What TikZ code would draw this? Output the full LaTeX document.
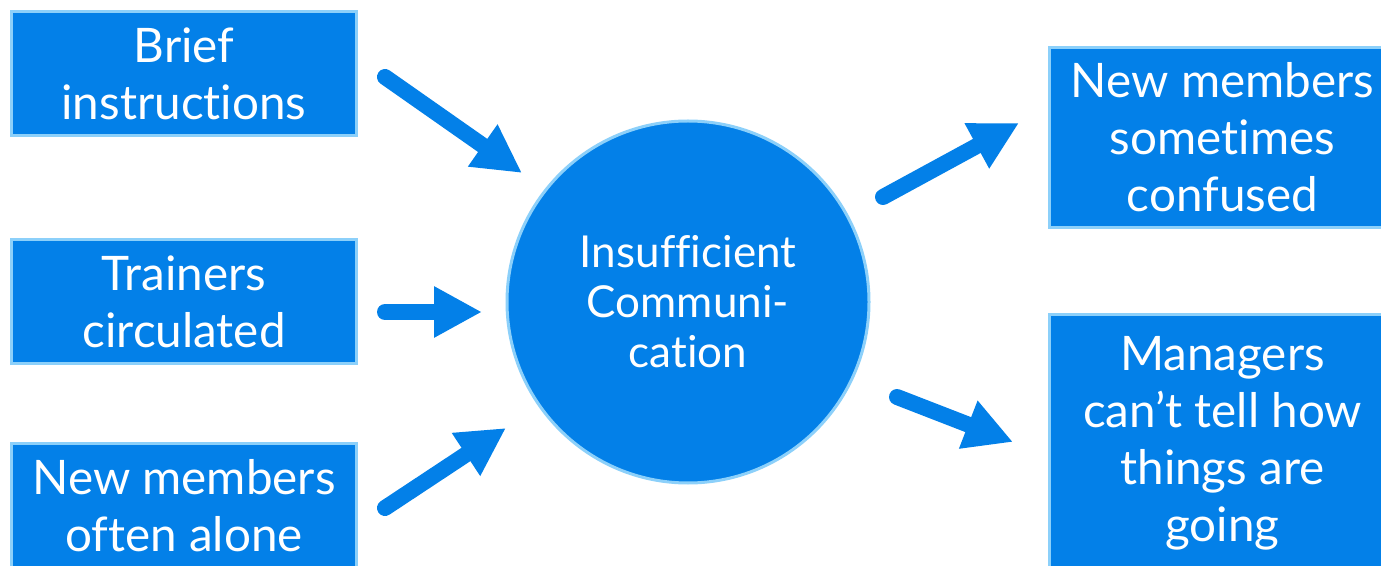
\documentclass[tikz,border=0pt]{standalone}
\usepackage{fontspec}
\setmainfont{Lato}[Ligatures=NoCommon]
\usetikzlibrary{arrows.meta}
\definecolor{boxfill}{RGB}{3,128,232}
\definecolor{boxedge}{RGB}{140,208,250}
\tikzset{
  box/.style={draw=boxedge, line width=1.5pt, fill=boxfill, text=white,
    anchor=north west, inner sep=0pt, align=center,
    font=\fontsize{23.8}{28.5}\selectfont},
  hub/.style={circle, draw=boxedge, line width=1.5pt, fill=boxfill, text=white,
    inner sep=0pt, minimum size=181pt, align=center,
    font=\fontsize{22}{25}\selectfont},
  bigarrow/.style={draw=boxfill, line width=8pt, line cap=round,
    -{Triangle[width=24pt,length=24pt]}}
}
\begin{document}
\begin{tikzpicture}[x=0.5pt,y=-0.5pt]
\useasboundingbox (0,0) rectangle (1381,566);
\clip (0,0) rectangle (1381,566);
\fill[white] (0,0) rectangle (1381,566);
\node[box, minimum width=172.5pt, minimum height=62pt] (b1) at (10,10) {Brief\\instructions};
\node[box, minimum width=172.5pt, minimum height=62pt] (b2) at (10,238) {Trainers\\circulated};
\node[box, minimum width=172.5pt, minimum height=62pt] (b3) at (10,442) {New members\\often alone};
\node[box, minimum width=173pt, minimum height=90pt] (r1) at (1048,46) {New members\\sometimes\\confused};
\node[box, minimum width=173pt, minimum height=128.5pt] (r2) at (1048,313) {Managers\\can’t tell how\\things are\\going};
\node[hub] (hub) at (688,302) {Insufficient\\Communi-\\cation};
\coordinate (t1) at (385,77);  \coordinate (h1) at (522,173);
\coordinate (t2) at (385,312); \coordinate (h2) at (482,312);
\coordinate (t3) at (385,508); \coordinate (h3) at (506,428);
\coordinate (t4) at (883,197); \coordinate (h4) at (1019,123);
\coordinate (t5) at (897,397); \coordinate (h5) at (1013,442);
\draw[bigarrow] (t1) -- (h1);
\draw[bigarrow] (t2) -- (h2);
\draw[bigarrow] (t3) -- (h3);
\draw[bigarrow] (t4) -- (h4);
\draw[bigarrow] (t5) -- (h5);
\end{tikzpicture}
\end{document}
